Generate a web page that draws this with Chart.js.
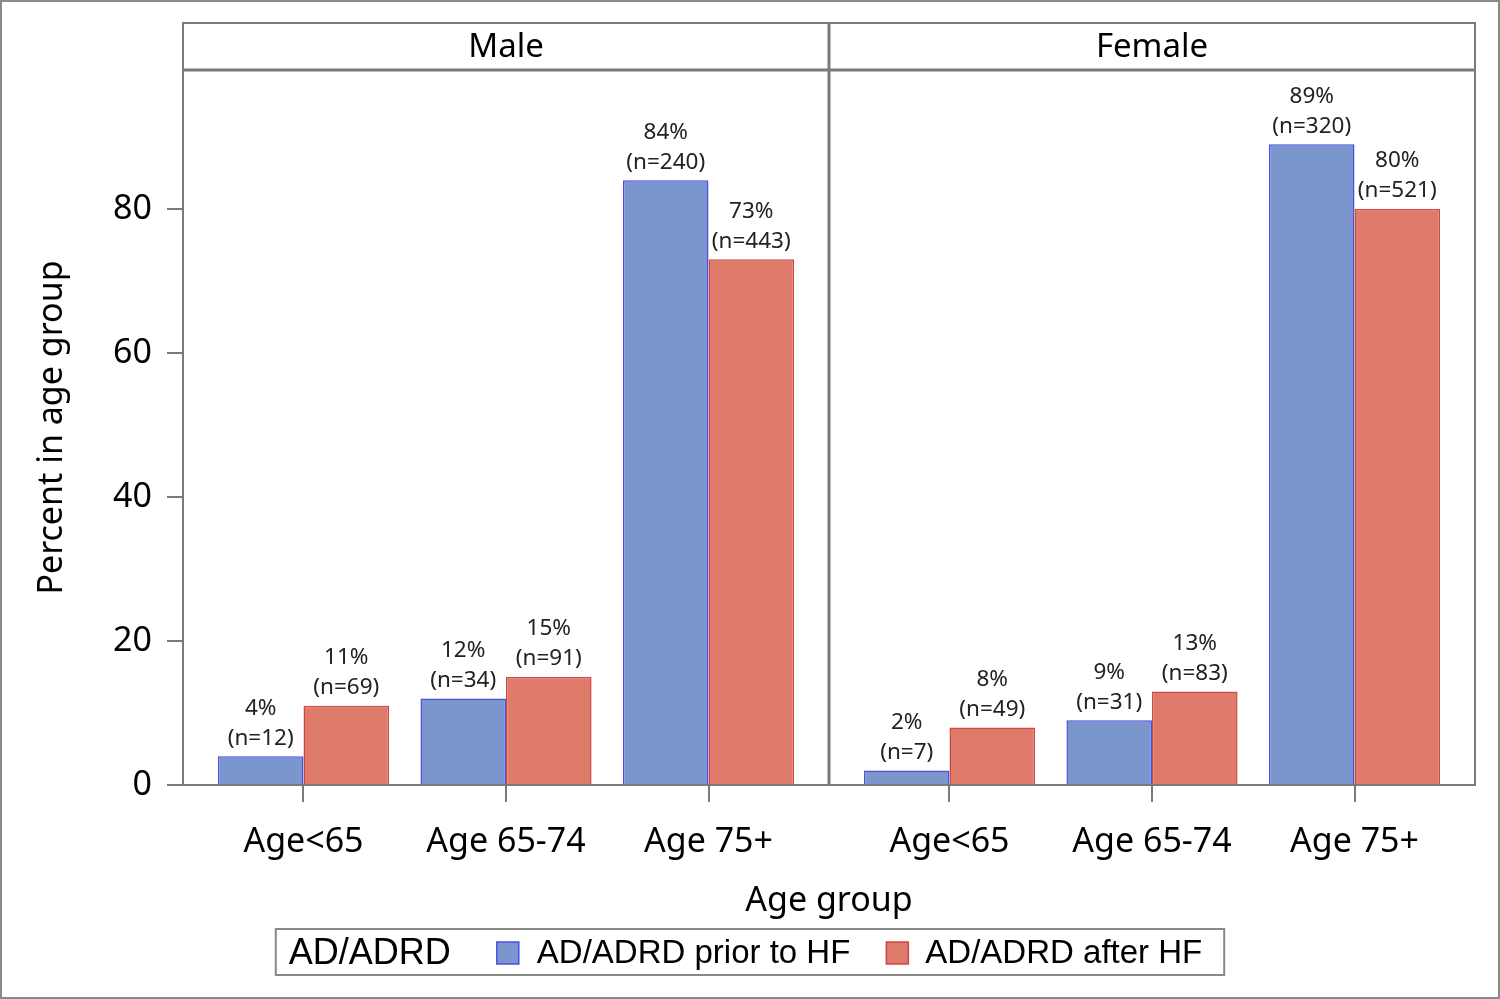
<!DOCTYPE html>
<html><head><meta charset="utf-8">
<script src="https://cdn.jsdelivr.net/npm/chart.js@4/dist/chart.umd.min.js"></script>
<style>html,body{margin:0;padding:0;background:#fff;}#wrap{position:relative;width:1500px;height:999px;}canvas{display:block;}</style>
</head><body><div id="wrap"><canvas id="c" width="1500" height="999"></canvas></div>
<script>
// ---- data ----
const panels = ['Male', 'Female'];
const categories = ['Age<65', 'Age 65-74', 'Age 75+'];
const seriesNames = ['AD/ADRD prior to HF', 'AD/ADRD after HF'];
const malePrior = [4, 12, 84];
const maleAfter = [11, 15, 73];
const femalePrior = [2, 9, 89];
const femaleAfter = [8, 13, 80];
const malePriorN = [12, 34, 240];
const maleAfterN = [69, 91, 443];
const femalePriorN = [7, 31, 320];
const femaleAfterN = [49, 83, 521];
const yTicks = [0, 20, 40, 60, 80];
const legendTitle = 'AD/ADRD';
const xTitle = 'Age group';
const yTitle = 'Percent in age group';

// ---- layout (not data) ----
const PANEL_W = 3.19;           // panel width in category units
const EDGE = 0.595;             // distance from panel edge to first category
const xMin = -EDGE, xMax = 2 * PANEL_W - EDGE;
const Y_MAX = 99.3;
const FONT = '"Noto Sans", "DejaVu Sans", sans-serif';
const FRAME = '#7a7a7a';

const positions = [];
panels.forEach((p, pi) => categories.forEach((c, ci) => positions.push(pi * PANEL_W + ci)));
const priorVals = malePrior.concat(femalePrior);
const afterVals = maleAfter.concat(femaleAfter);
const priorN = malePriorN.concat(femalePriorN);
const afterN = maleAfterN.concat(femaleAfterN);
const mk = vals => vals.map((v, i) => ({x: positions[i], y: v}));
const labelSets = [
  priorVals.map((v, i) => [v + '%', '(n=' + priorN[i] + ')']),
  afterVals.map((v, i) => [v + '%', '(n=' + afterN[i] + ')'])
];

const decor = {
  id: 'decor',
  afterDraw(chart) {
    const ctx = chart.ctx, ca = chart.chartArea, xs = chart.scales.x;
    ctx.save();
    // data labels
    ctx.fillStyle = '#222';
    ctx.font = '22.5px ' + FONT;
    ctx.textAlign = 'center';
    ctx.textBaseline = 'middle';
    chart.data.datasets.forEach((ds, di) => {
      chart.getDatasetMeta(di).data.forEach((bar, i) => {
        const lines = labelSets[di][i];
        ctx.fillText(lines[0], bar.x, bar.y - 48);
        ctx.fillText(lines[1], bar.x, bar.y - 18);
      });
    });
    // panel frames
    const headTop = 23;
    ctx.strokeStyle = FRAME;
    ctx.lineWidth = 2;
    ctx.strokeRect(ca.left, headTop, ca.right - ca.left, ca.bottom - headTop);
    ctx.lineWidth = 3;
    ctx.beginPath(); ctx.moveTo(ca.left, ca.top); ctx.lineTo(ca.right, ca.top); ctx.stroke();
    const mid = xs.getPixelForValue(PANEL_W - EDGE);
    ctx.lineWidth = 3;
    ctx.beginPath(); ctx.moveTo(mid, headTop); ctx.lineTo(mid, ca.bottom); ctx.stroke();
    ctx.lineWidth = 2;
    ctx.beginPath(); ctx.moveTo(ca.left, ca.bottom); ctx.lineTo(ca.right, ca.bottom); ctx.stroke();
    // headers
    ctx.fillStyle = '#000';
    ctx.font = '33px ' + FONT;
    panels.forEach((p, pi) => {
      const l = xs.getPixelForValue(pi * PANEL_W - EDGE), r = xs.getPixelForValue((pi + 1) * PANEL_W - EDGE);
      ctx.fillText(p, (l + r) / 2, (headTop + ca.top) / 2 + 1);
    });
    // legend
    const LF = '"Liberation Sans", Arial, sans-serif';
    ctx.textAlign = 'left';
    ctx.font = '36px ' + LF;
    const tW = ctx.measureText(legendTitle).width;
    ctx.font = '33px ' + LF;
    const w0 = ctx.measureText(seriesNames[0]).width, w1 = ctx.measureText(seriesNames[1]).width;
    const sq = 22;
    const total = 13 + tW + 46 + sq + 18 + w0 + 36 + sq + 17 + w1 + 22;
    const bx = 750 - total / 2, by = 929, bh = 46, cy = by + bh / 2 + 2;
    ctx.strokeStyle = '#888'; ctx.lineWidth = 2;
    ctx.strokeRect(bx, by, total, bh);
    let x = bx + 13;
    ctx.font = '36px ' + LF;
    ctx.fillText(legendTitle, x, cy); x += tW + 46;
    ctx.font = '33px ' + LF;
    chart.data.datasets.forEach((ds, di) => {
      ctx.fillStyle = ds.backgroundColor; ctx.strokeStyle = ds.borderColor; ctx.lineWidth = 1.5;
      ctx.fillRect(x, cy - 1 - sq / 2, sq, sq); ctx.strokeRect(x, cy - 1 - sq / 2, sq, sq);
      x += sq + (di === 0 ? 18 : 17);
      ctx.fillStyle = '#000';
      ctx.fillText(seriesNames[di], x, cy);
      x += (di === 0 ? w0 : w1) + 36;
    });
    // outer border
    ctx.strokeStyle = '#8a8a8a'; ctx.lineWidth = 2;
    ctx.strokeRect(1, 1, 1498, 997);
    ctx.restore();
  }
};

new Chart(document.getElementById('c'), {
  type: 'bar',
  data: {
    datasets: [
      {label: seriesNames[0], data: mk(priorVals), backgroundColor: '#7b96cc', borderColor: '#4d4de6', borderWidth: 1.5},
      {label: seriesNames[1], data: mk(afterVals), backgroundColor: '#de7b6b', borderColor: '#d04545', borderWidth: 1.5}
    ]
  },
  options: {
    responsive: false,
    animation: false,
    categoryPercentage: 0.845,
    barPercentage: 1.0,
    layout: {padding: {top: 70, right: 25, left: 0, bottom: 0}},
    plugins: {legend: {display: false}, tooltip: {enabled: false}},
    scales: {
      x: {
        type: 'linear', min: xMin, max: xMax, position: 'bottom', offset: false,
        afterBuildTicks: s => { s.ticks = positions.map(v => ({value: v})); },
        afterFit: s => { s.height = 214; },
        ticks: {autoSkip: false, maxRotation: 0, padding: 20, color: '#000', font: {family: FONT, size: 34},
          callback: (v, i) => categories[i % categories.length]},
        grid: {offset: false, drawOnChartArea: false, drawTicks: true, tickLength: 17, color: FRAME, lineWidth: 2},
        border: {display: false},
        title: {display: true, text: xTitle, color: '#000', font: {family: FONT, size: 34}, padding: {top: 0, bottom: 77}}
      },
      y: {
        min: 0, max: Y_MAX,
        afterBuildTicks: s => { s.ticks = yTicks.map(v => ({value: v})); },
        afterFit: s => { s.width = 183; },
        ticks: {padding: 15, color: '#000', font: {family: FONT, size: 34}},
        grid: {drawOnChartArea: false, drawTicks: true, tickLength: 16, color: FRAME, lineWidth: 2},
        border: {display: false},
        title: {display: true, text: yTitle, color: '#000', font: {family: FONT, size: 34}, padding: {top: 32, bottom: 0}}
      }
    }
  },
  plugins: [decor]
});
</script></body></html>
